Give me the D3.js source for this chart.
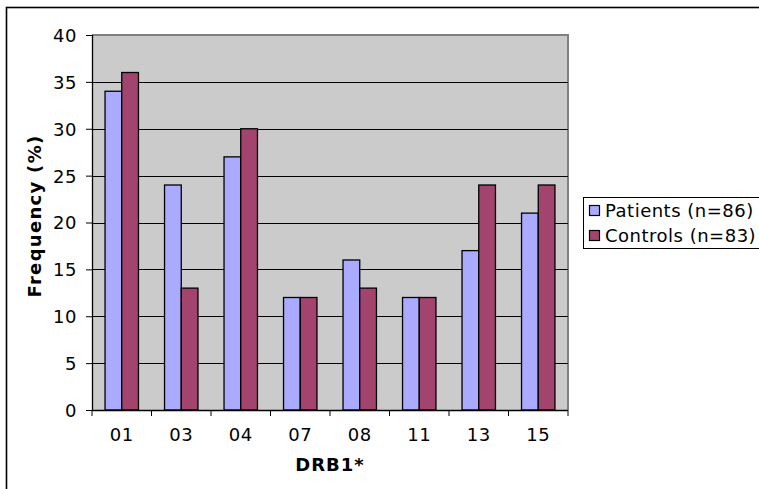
<!DOCTYPE html>
<html><head><meta charset="utf-8">
<script src="https://cdn.jsdelivr.net/npm/d3@7"></script>
<style>
body{margin:0;background:#fff;}
svg text{font-family:"DejaVu Sans",Verdana,sans-serif;font-size:18px;letter-spacing:0.5px;fill:#000;}
</style></head>
<body><svg id="c" width="759" height="489"></svg>
<script>
const categories = ["01","03","04","07","08","11","13","15"];
const patients = [34,24,27,12,16,12,17,21];
const controls = [36,13,30,12,13,12,24,24];
const seriesNames = ["Patients (n=86)","Controls (n=83)"];
const seriesColors = ["#AAAAFF","#A3446F"];
const yTicks = [0,5,10,15,20,25,30,35,40];
const xTitle = "DRB1*";
const yTitle = "Frequency (%)";

const svg = d3.select("#c");
const L=92, R=568, T=35, B=410;

svg.append("rect").attr("x",6.5).attr("y",7.5).attr("width",900).attr("height",700)
  .attr("fill","#fff").attr("stroke","#000").attr("stroke-width",1.6);

const x = d3.scaleBand().domain(categories).range([L,R]).padding(0);
const xs = d3.scaleBand().domain([0,1]).range([0,x.bandwidth()]).paddingInner(0).paddingOuter(0.78);
const y = d3.scaleLinear().domain([0,40]).range([B,T]);

svg.append("rect").attr("x",L).attr("y",T).attr("width",R-L).attr("height",B-T).attr("fill","#CBCBCB");
svg.append("path").attr("d",`M${L},${T}H${R}V${B}`).attr("fill","none").attr("stroke","#808080").attr("stroke-width",2);

svg.append("g").selectAll("line").data(yTicks.filter(d=>d>0&&d<40)).join("line")
  .attr("x1",L).attr("x2",R).attr("y1",d=>Math.round(y(d))+0.5).attr("y2",d=>Math.round(y(d))+0.5)
  .attr("stroke","#000").attr("stroke-width",1);

const data = categories.map((c,i)=>({c, v:[patients[i],controls[i]]}));
const g = svg.append("g");
data.forEach(d=>{
  d.v.forEach((v,s)=>{
    g.append("rect").attr("x",x(d.c)+xs(s)).attr("y",y(v)).attr("width",xs.bandwidth()).attr("height",B-y(v))
      .attr("fill",seriesColors[s]).attr("stroke","#000").attr("stroke-width",1.3);
  });
});

const ya = svg.append("g").attr("transform",`translate(${L},0)`)
  .call(d3.axisLeft(y).tickValues(yTicks).tickSize(6).tickPadding(9).tickFormat(d3.format("d")));
ya.select(".domain").remove();
ya.selectAll("line").attr("stroke","#000");
ya.selectAll("text").attr("style","font-size:18px").attr("dy","0.36em");
svg.append("line").attr("x1",L+0.5).attr("x2",L+0.5).attr("y1",T).attr("y2",B).attr("stroke","#000").attr("stroke-width",1.3);

const xa = svg.append("g").attr("transform",`translate(0,${B})`)
  .call(d3.axisBottom(x).tickSize(0).tickPadding(18));
xa.select(".domain").remove();
xa.selectAll("text").attr("style","font-size:18px");
svg.append("g").selectAll("line").data(d3.range(categories.length+1)).join("line")
  .attr("x1",i=>L+i*x.step()).attr("x2",i=>L+i*x.step()).attr("y1",B).attr("y2",B+6).attr("stroke","#000");
svg.append("line").attr("x1",L).attr("x2",R).attr("y1",B+0.5).attr("y2",B+0.5).attr("stroke","#000").attr("stroke-width",1.3);

svg.append("text").attr("x",(L+R)/2).attr("y",471).attr("text-anchor","middle").attr("font-weight","bold")
  .attr("style","letter-spacing:1px").text(xTitle);
svg.append("text").attr("transform","translate(41,216) rotate(-90)").attr("text-anchor","middle").attr("font-weight","bold")
  .attr("style","letter-spacing:1.3px").text(yTitle);

const lg = svg.append("g");
lg.append("rect").attr("x",583.5).attr("y",197.5).attr("width",190).attr("height",51).attr("fill","#fff").attr("stroke","#000").attr("stroke-width",1);
seriesNames.forEach((n,i)=>{
  lg.append("rect").attr("x",589.5).attr("y",205.5+i*25).attr("width",10).attr("height",10)
    .attr("fill",seriesColors[i]).attr("stroke","#000").attr("stroke-width",1.2);
  lg.append("text").attr("x",605).attr("y",216.5+i*25.5).text(n);
});
</script></body></html>
